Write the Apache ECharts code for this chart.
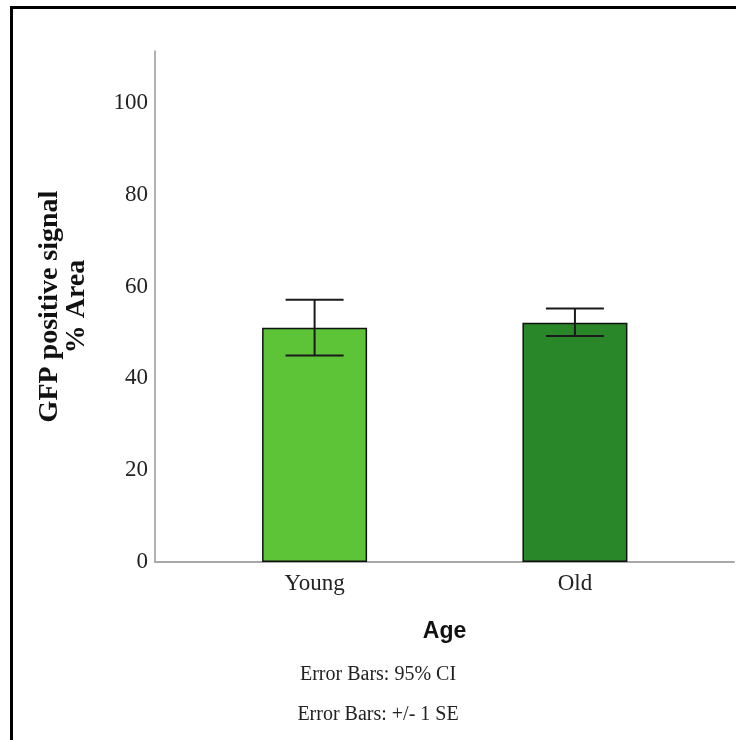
<!DOCTYPE html>
<html>
<head>
<meta charset="utf-8">
<script src="https://cdn.jsdelivr.net/npm/echarts@6/dist/echarts.min.js"></script>
<style>
html,body{margin:0;padding:0;background:#fff;}
#chart{width:736px;height:740px;}
</style>
</head>
<body>
<div id="chart"></div>
<script>
// Data
const categories = ['Young', 'Old'];
const categoryPos = [1, 2];
const meanValues = [51.0, 52.1];
const errLow = [45.0, 49.2];
const errHigh = [57.1, 55.2];
const barColors = ['#5dc337', '#2a8729'];
const yTicks = [0, 20, 40, 60, 80, 100];
const footnotes = ['Error Bars: 95% CI', 'Error Bars: +/- 1 SE'];

const chart = echarts.init(document.getElementById('chart'), null, {renderer: 'canvas'});

const barData = categories.map((c, i) => ({
  value: [categoryPos[i], meanValues[i]],
  itemStyle: {color: barColors[i]}
}));
const errData = categories.map((c, i) => [categoryPos[i], errLow[i], errHigh[i]]);

const option = {
  backgroundColor: '#fff',
  animation: false,
  grid: {left: 155, right: 2, top: 51, bottom: 178},
  xAxis: {
    type: 'value',
    min: 0.387,
    max: 2.611,
    splitLine: {show: false},
    axisTick: {show: false},
    axisLine: {show: true, lineStyle: {color: '#a8a8a8', width: 2}},
    axisLabel: {
      customValues: categoryPos,
      formatter: v => categories[categoryPos.indexOf(Math.round(v))] || '',
      fontFamily: 'Liberation Serif',
      fontSize: 23,
      color: '#222',
      margin: 10
    },
    name: 'Age',
    nameLocation: 'middle',
    nameGap: 58,
    nameTextStyle: {fontFamily: 'Liberation Sans', fontWeight: 'bold', fontSize: 23, color: '#111'}
  },
  yAxis: {
    type: 'value',
    min: 0,
    max: 111.3,
    interval: 20,
    splitLine: {show: false},
    axisTick: {show: false},
    axisLine: {show: true, lineStyle: {color: '#999', width: 1.5}},
    axisLabel: {
      customValues: yTicks,
      fontFamily: 'Liberation Serif',
      fontSize: 23,
      color: '#222',
      margin: 7,
      padding: [4, 0, 0, 0]
    },
    name: 'GFP positive signal\n% Area',
    nameLocation: 'middle',
    nameGap: 65,
    nameRotate: 90,
    nameTextStyle: {fontFamily: 'Liberation Serif', fontWeight: 'bold', fontSize: 28, color: '#111', lineHeight: 27}
  },
  series: [
    {
      type: 'bar',
      data: barData,
      barWidth: 105,
      itemStyle: {borderColor: '#111', borderWidth: 1.5}
    },
    {
      type: 'custom',
      data: errData,
      z: 10,
      renderItem: function (params, api) {
        const x = api.value(0);
        const lo = api.coord([x, api.value(1)]);
        const hi = api.coord([x, api.value(2)]);
        const hw = 29;
        const style = {stroke: '#1a1a1a', lineWidth: 2};
        return {
          type: 'group',
          children: [
            {type: 'line', shape: {x1: hi[0], y1: hi[1], x2: lo[0], y2: lo[1]}, style},
            {type: 'line', shape: {x1: hi[0] - hw, y1: hi[1], x2: hi[0] + hw, y2: hi[1]}, style},
            {type: 'line', shape: {x1: lo[0] - hw, y1: lo[1], x2: lo[0] + hw, y2: lo[1]}, style}
          ]
        };
      }
    }
  ],
  graphic: [
    {type: 'rect', shape: {x: 11.5, y: 7.5, width: 1000, height: 1000}, style: {fill: 'none', stroke: '#000', lineWidth: 3}, silent: true},
    {type: 'text', x: 378, y: 675, style: {text: footnotes[0], font: '20px "Liberation Serif"', fill: '#222', align: 'center', verticalAlign: 'middle'}},
    {type: 'text', x: 378, y: 715, style: {text: footnotes[1], font: '20px "Liberation Serif"', fill: '#222', align: 'center', verticalAlign: 'middle'}}
  ]
};
chart.setOption(option);
</script>
</body>
</html>
